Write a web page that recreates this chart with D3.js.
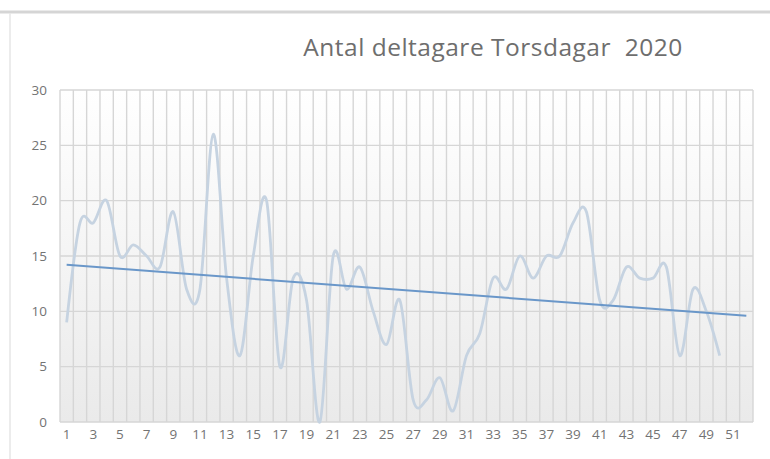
<!DOCTYPE html>
<html>
<head>
<meta charset="utf-8">
<script src="https://cdn.jsdelivr.net/npm/d3@7"></script>
<style>
body { margin: 0; background: #fff; }
svg { display: block; }
</style>
</head>
<body>
<svg></svg>
<script>
// week numbers on the category axis (1..52), odd ones are labelled
const weeks = d3.range(1, 53);
const weekLabels = weeks.filter(w => w % 2 === 1);
// participants per Thursday, weeks 1..50
const participants = [9, 18, 18, 20, 15, 16, 15, 14, 19, 12,
    12, 26, 13, 6, 15, 20, 5, 13, 11, 0,
    15, 12, 14, 10, 7, 11, 2, 2, 4, 1,
    6, 8, 13, 12, 15, 13, 15, 15, 18, 19,
    11, 11, 14, 13, 13, 14, 6, 12, 10, 6];
// linear trend line, read at its two ends
const trendWeeks = [1, 52];
const trendValues = [14.2, 9.6];
const yTicks = [0, 5, 10, 15, 20, 25, 30];
const title = "Antal deltagare Torsdagar  2020";

const width = 770;
const height = 459;
const margin = {top: 90, right: 17, bottom: 37, left: 60};

const svg = d3.select('svg')
    .attr("width", width)
    .attr("height", height);

// chart area frame
svg.append("line")
    .attr("x1", 0).attr("x2", width)
    .attr("y1", 12).attr("y2", 12)
    .attr("stroke", "#d5d5d5").attr("stroke-width", 3);
svg.append("line")
    .attr("x1", 10).attr("x2", 10)
    .attr("y1", 13).attr("y2", height)
    .attr("stroke", "#e6e6e6").attr("stroke-width", 1.5);

const defs = svg.append("defs");
const grad = defs.append("linearGradient")
    .attr("id", "plotbg")
    .attr("x1", 0).attr("y1", 0).attr("x2", 0).attr("y2", 1);
grad.append("stop").attr("offset", "0%").attr("stop-color", "#ffffff");
grad.append("stop").attr("offset", "100%").attr("stop-color", "#eaeaea");

const x = d3.scaleBand()
    .domain(weeks)
    .range([margin.left, width - margin.right])
    .padding(0);

const y = d3.scaleLinear()
    .domain([0, 30])
    .range([height - margin.bottom, margin.top]);

const plot = svg.append("g");

plot.append("rect")
    .attr("x", margin.left)
    .attr("y", margin.top)
    .attr("width", width - margin.left - margin.right)
    .attr("height", height - margin.top - margin.bottom)
    .attr("fill", "url(#plotbg)");

// vertical gridlines between categories
const vBounds = weeks.map(w => x(w)).concat([x(weeks[weeks.length - 1]) + x.bandwidth()]);
plot.selectAll(".vgrid")
    .data(vBounds)
    .enter()
    .append("line")
    .attr("x1", d => d).attr("x2", d => d)
    .attr("y1", margin.top).attr("y2", height - margin.bottom)
    .attr("stroke", "#d6d6d6")
    .attr("stroke-width", 1.4);

// horizontal gridlines
plot.selectAll(".hgrid")
    .data(yTicks)
    .enter()
    .append("line")
    .attr("x1", margin.left).attr("x2", width - margin.right)
    .attr("y1", d => y(d)).attr("y2", d => y(d))
    .attr("stroke", "#d6d6d6")
    .attr("stroke-width", 1.4);

// y axis labels
const yAxis = svg.append("g")
    .attr("transform", `translate(${margin.left - 13}, 0)`)
    .call(d3.axisLeft(y).tickValues(yTicks).tickSize(0).tickPadding(0));
yAxis.select(".domain").remove();
yAxis.selectAll("text")
    .attr("fill", "#737373")
    .style("font-family", "'Open Sans', sans-serif")
    .style("font-size", "13.5px");

// x axis labels
const xAxis = svg.append("g")
    .attr("transform", `translate(0, ${height - margin.bottom + 7})`)
    .call(d3.axisBottom(x).tickValues(weekLabels).tickSize(0).tickPadding(0));
xAxis.select(".domain").remove();
xAxis.selectAll("text")
    .attr("fill", "#737373")
    .style("font-family", "'Open Sans', sans-serif")
    .style("font-size", "13.5px");

// smoothed series line
const line = d3.line()
    .x((d, i) => x(weeks[i]) + x.bandwidth() / 2)
    .y(d => y(d))
    .curve(d3.curveCardinal.tension(0));

plot.append("path")
    .datum(participants)
    .attr("d", line)
    .attr("fill", "none")
    .attr("stroke", "#c6d3e1")
    .attr("stroke-width", 2.8)
    .attr("stroke-linejoin", "round");

// trend line
plot.append("line")
    .attr("x1", x(trendWeeks[0]) + x.bandwidth() / 2)
    .attr("y1", y(trendValues[0]))
    .attr("x2", x(trendWeeks[1]) + x.bandwidth() / 2)
    .attr("y2", y(trendValues[1]))
    .attr("stroke", "#6a97c9")
    .attr("stroke-width", 2);

// title
svg.append("text")
    .attr("x", 493)
    .attr("y", 56)
    .attr("text-anchor", "middle")
    .attr("fill", "#6e6e6e")
    .style("font-family", "'Open Sans', sans-serif")
    .style("font-size", "24.5px")
    .style("letter-spacing", "0.5px")
    .style("white-space", "pre")
    .text(title);
</script>
</body>
</html>
